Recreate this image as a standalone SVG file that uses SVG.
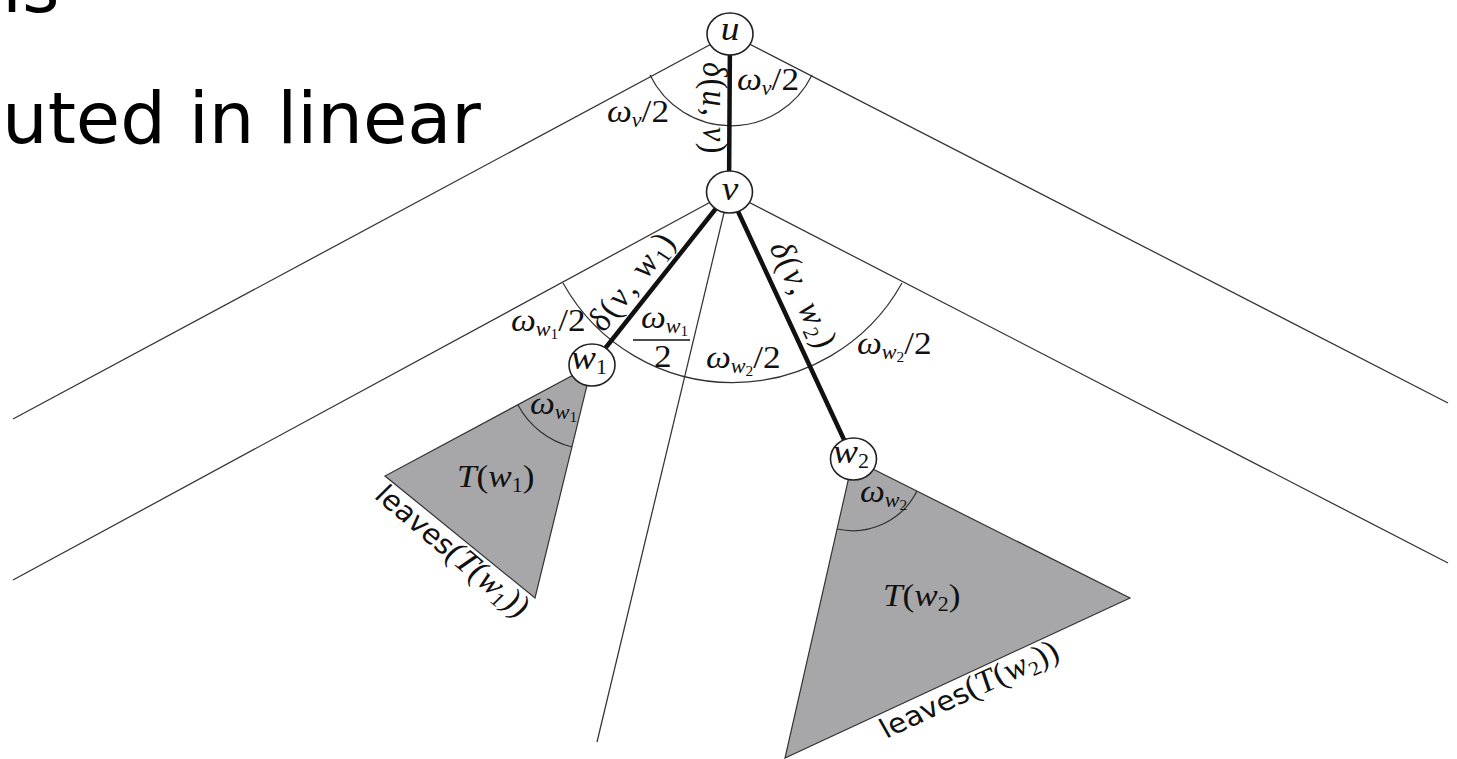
<svg xmlns="http://www.w3.org/2000/svg" width="1457" height="759" viewBox="0 0 1457 759">
<style>
.thin{fill:none;stroke:#333;stroke-width:1.25}
.thick{stroke:#111;stroke-width:4.5}
.node{fill:#fff;stroke:#222;stroke-width:1.6}
.tri{fill:#a7a7a9;stroke:#333;stroke-width:1.2}
.m{font-family:"Liberation Serif","DejaVu Serif",serif;font-style:italic;font-size:32px;fill:#111}
.n{font-size:34px}
.sub{font-size:20px}
.ss{font-size:14px;font-style:normal}
.up{font-style:normal}
.sans{font-family:"DejaVu Sans","Liberation Sans",sans-serif;font-style:normal}
.slide{font-family:"DejaVu Sans",sans-serif;font-size:72px;fill:#000}
.bar{stroke:#111;stroke-width:1.3}
</style>
<rect width="1457" height="759" fill="#fff"/>
<g id="slide-text">
<text class="slide" x="2" y="12">is</text>
<text class="slide" x="2" y="143">uted in linear</text>
</g>
<g id="connectors">
<line class="thin" x1="730" y1="34" x2="13" y2="419"/>
<line class="thin" x1="730" y1="34" x2="1448" y2="403"/>
<line class="thin" x1="729" y1="192" x2="13" y2="580"/>
<line class="thin" x1="729" y1="192" x2="1448" y2="563"/>
<line class="thin" x1="729" y1="192" x2="597" y2="742"/>
<path class="thin" d="M650,75 A90,90 0 0 0 812,75"/>
<path class="thin" d="M563,283 A194,194 0 0 0 902,283"/>
<line class="thick" x1="730" y1="34" x2="729" y2="192"/>
<line class="thick" x1="729" y1="192" x2="592" y2="365"/>
<line class="thick" x1="729" y1="192" x2="853" y2="459"/>
</g>
<g id="subtree-w1">
<polygon class="tri" points="592,365 385,476 535,598"/>
<path class="thin" d="M518,405 A84,84 0 0 0 572,447"/>
<text class="m" transform="translate(530,414) scale(1.1,1)">ω<tspan class="sub" dy="5">w</tspan><tspan class="ss" dy="3">1</tspan></text>
<text class="m" transform="translate(457,487) scale(1.1,1)">T<tspan class="up">(</tspan>w<tspan class="sub up" dy="5">1</tspan><tspan class="up" dy="-5">)</tspan></text>
<text class="m" transform="translate(373,497) scale(1.1,1) rotate(42.7)"><tspan class="sans" font-size="27">leaves</tspan><tspan class="up">(</tspan>T<tspan class="up">(</tspan>w<tspan class="sub up" dy="5">1</tspan><tspan class="up" dy="-5">))</tspan></text>
</g>
<g id="subtree-w2">
<polygon class="tri" points="853,459 1130,598 785,758"/>
<path class="thin" d="M917,491 A72,72 0 0 1 837,529"/>
<text class="m" transform="translate(860,502) scale(1.1,1)">ω<tspan class="sub" dy="5">w</tspan><tspan class="ss" dy="3">2</tspan></text>
<text class="m" transform="translate(883,606) scale(1.1,1)">T<tspan class="up">(</tspan>w<tspan class="sub up" dy="5">2</tspan><tspan class="up" dy="-5">)</tspan></text>
<text class="m" transform="translate(886,739) scale(1.1,1) rotate(-27)"><tspan class="sans" font-size="27">leaves</tspan><tspan class="up">(</tspan>T<tspan class="up">(</tspan>w<tspan class="sub up" dy="5">2</tspan><tspan class="up" dy="-5">))</tspan></text>
</g>
<g id="labels">
<text class="m" transform="translate(607,122) scale(1.1,1)">ω<tspan class="sub" dy="5">v</tspan><tspan class="up" dy="-5">/2</tspan></text>
<text class="m" transform="translate(737,90) scale(1.1,1)">ω<tspan class="sub" dy="5">v</tspan><tspan class="up" dy="-5">/2</tspan></text>
<text class="m" transform="translate(703,62) scale(1.1,1) rotate(90)" letter-spacing="1.5">δ<tspan class="up">(</tspan>u<tspan class="up">, </tspan>v<tspan class="up">)</tspan></text>
<text class="m" transform="translate(604,333) scale(1.1,1) rotate(-54.1)" letter-spacing="2">δ<tspan class="up">(</tspan>v<tspan class="up">, </tspan>w<tspan class="sub up" dy="5">1</tspan><tspan class="up" dy="-5">)</tspan></text>
<text class="m" transform="translate(769,247) scale(1.1,1) rotate(67)" letter-spacing="2">δ<tspan class="up">(</tspan>v<tspan class="up">, </tspan>w<tspan class="sub up" dy="5">2</tspan><tspan class="up" dy="-5">)</tspan></text>
<text class="m" transform="translate(511,331) scale(1.1,1)">ω<tspan class="sub" dy="5">w</tspan><tspan class="ss" dy="3">1</tspan><tspan class="up" dy="-8">/2</tspan></text>
<text class="m" transform="translate(641,328) scale(1.1,1)">ω<tspan class="sub" dy="5">w</tspan><tspan class="ss" dy="3">1</tspan></text>
<line class="bar" x1="633" y1="340" x2="690" y2="340"/>
<text class="m up" transform="translate(654,367) scale(1.1,1)">2</text>
<text class="m" transform="translate(706,368) scale(1.1,1)">ω<tspan class="sub" dy="5">w</tspan><tspan class="ss" dy="3">2</tspan><tspan class="up" dy="-8">/2</tspan></text>
<text class="m" transform="translate(857,354) scale(1.1,1)">ω<tspan class="sub" dy="5">w</tspan><tspan class="ss" dy="3">2</tspan><tspan class="up" dy="-8">/2</tspan></text>
</g>
<g id="node-u">
<ellipse class="node" cx="730" cy="34" rx="23" ry="21"/>
<text class="m n" transform="translate(730,40) scale(1.1,1)" text-anchor="middle">u</text>
</g>
<g id="node-v">
<ellipse class="node" cx="729.5" cy="192" rx="23" ry="21"/>
<text class="m n" transform="translate(730,200) scale(1.1,1)" text-anchor="middle">v</text>
</g>
<g id="node-w1">
<ellipse class="node" cx="592" cy="365" rx="23" ry="21"/>
<text class="m n" transform="translate(571,369) scale(1.1,1)">w<tspan class="sub up" dy="5">1</tspan></text>
</g>
<g id="node-w2">
<ellipse class="node" cx="853.5" cy="459" rx="23" ry="21"/>
<text class="m n" transform="translate(833,463) scale(1.1,1)">w<tspan class="sub up" dy="5">2</tspan></text>
</g>
</svg>
